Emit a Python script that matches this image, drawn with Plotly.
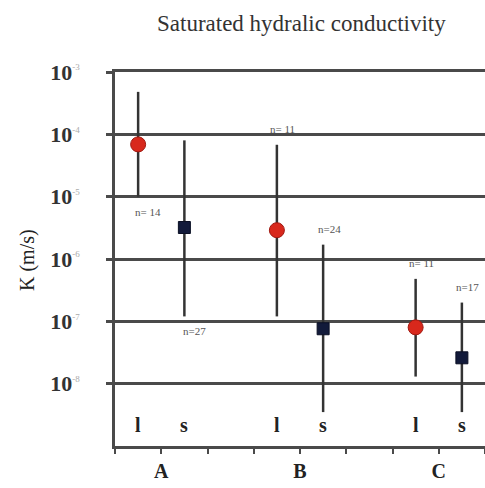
import numpy as np
import plotly.graph_objects as go

# Sample groups and soil types
positions = [0.5, 1.5, 3.5, 4.5, 6.5, 7.5]
soil_type = ["l", "s", "l", "s", "l", "s"]
n_labels = ["n= 14", "n=27", "n= 11", "n=24", "n= 11", "n=17"]

# Saturated hydraulic conductivity K (m/s): central value, min and max
k_center = [6.9e-5, 3.2e-6, 2.9e-6, 7.6e-8, 8.0e-8, 2.6e-8]
k_min = [1.0e-5, 1.2e-7, 1.2e-7, 3.5e-9, 1.3e-8, 3.5e-9]
k_max = [4.8e-4, 8.0e-5, 6.8e-5, 1.7e-6, 4.8e-7, 2.0e-7]

group_ticks = [1, 4, 7]
group_text = ["<b>A</b>", "<b>B</b>", "<b>C</b>"]
minor_ticks = [0, 2, 3, 5, 6, 8]
decades = [-8, -7, -6, -5, -4, -3]

# n labels go below the whisker for group A, above it elsewhere
label_below = [True, True, False, False, False, False]

serif = "Liberation Serif"
dark = "#4a4a4a"

fig = go.Figure()

for kind, color, line_col, symbol, size in [
    ("l", "#d8281c", "#a01810", "circle", 15),
    ("s", "#121a3a", "#0a0f24", "square", 12),
]:
    idx = [i for i, t in enumerate(soil_type) if t == kind]
    xs = [positions[i] for i in idx]
    ys = [k_center[i] for i in idx]
    up = [k_max[i] - k_center[i] for i in idx]
    dn = [k_center[i] - k_min[i] for i in idx]
    fig.add_trace(go.Scatter(
        x=xs, y=ys, mode="markers",
        marker=dict(symbol=symbol, size=size, color=color,
                    line=dict(color=line_col, width=1)),
        error_y=dict(type="data", symmetric=False, array=up, arrayminus=dn,
                     color="#333333", thickness=2.5, width=0),
        showlegend=False,
    ))

annotations = []
for i, x in enumerate(positions):
    if label_below[i]:
        y = np.log10(k_min[i]); ys = -15; xs = 10
    else:
        y = np.log10(k_max[i]); ys = 16; xs = 6
    annotations.append(dict(
        x=x, y=y, xref="x", yref="y", text=n_labels[i],
        showarrow=False, xshift=xs, yshift=ys,
        font=dict(family=serif, size=11, color="#555555"),
    ))
    annotations.append(dict(
        x=x, y=-8.66, xref="x", yref="y", text=f"<b>{soil_type[i]}</b>",
        showarrow=False, font=dict(family=serif, size=20, color="#222222"),
    ))

annotations.append(dict(
    x=(27 - 115) / 370, y=(446 - 260) / 374, xref="paper", yref="paper",
    xanchor="center", yanchor="middle",
    text="K (m/s)", textangle=-90, showarrow=False,
    font=dict(family=serif, size=20, color="#222222"),
))
annotations.append(dict(
    x=(301 - 115) / 370, y=1 + (72 - 24) / 374, xref="paper", yref="paper",
    xanchor="center", yanchor="middle",
    text="Saturated hydralic conductivity", showarrow=False,
    font=dict(family=serif, size=23, color="#333333"),
))

fig.update_layout(
    width=485, height=488,
    margin=dict(l=115, r=0, t=72, b=42),
    paper_bgcolor="white", plot_bgcolor="white",
    annotations=annotations,
    xaxis=dict(
        range=[0, 8], tickmode="array", tickvals=group_ticks, ticktext=group_text,
        showgrid=False, zeroline=False,
        showline=True, linecolor=dark, linewidth=3, mirror=True,
        ticks="outside", ticklen=5, tickwidth=2, tickcolor=dark,
        minor=dict(tickmode="array", tickvals=minor_ticks, ticks="outside",
                   ticklen=5, tickwidth=2, tickcolor=dark, showgrid=False),
        tickfont=dict(family=serif, size=20, color="#222222"),
    ),
    yaxis=dict(
        type="log", range=[-9, -3],
        tickmode="array", tickvals=[10.0 ** d for d in decades],
        ticktext=[f"<b>10</b><sup><span style='font-size:9px;color:#aaaaaa'>{d}</span></sup>"
                  for d in decades],
        showgrid=True, gridcolor=dark, gridwidth=2.5,
        zeroline=False, showline=True, linecolor=dark, linewidth=2.5,
        ticks="outside", ticklen=6, tickwidth=2.5, tickcolor=dark,
        ticklabelstandoff=22,
        tickfont=dict(family=serif, size=22, color="#333333"),
    ),
)

fig.write_html("out.html")
